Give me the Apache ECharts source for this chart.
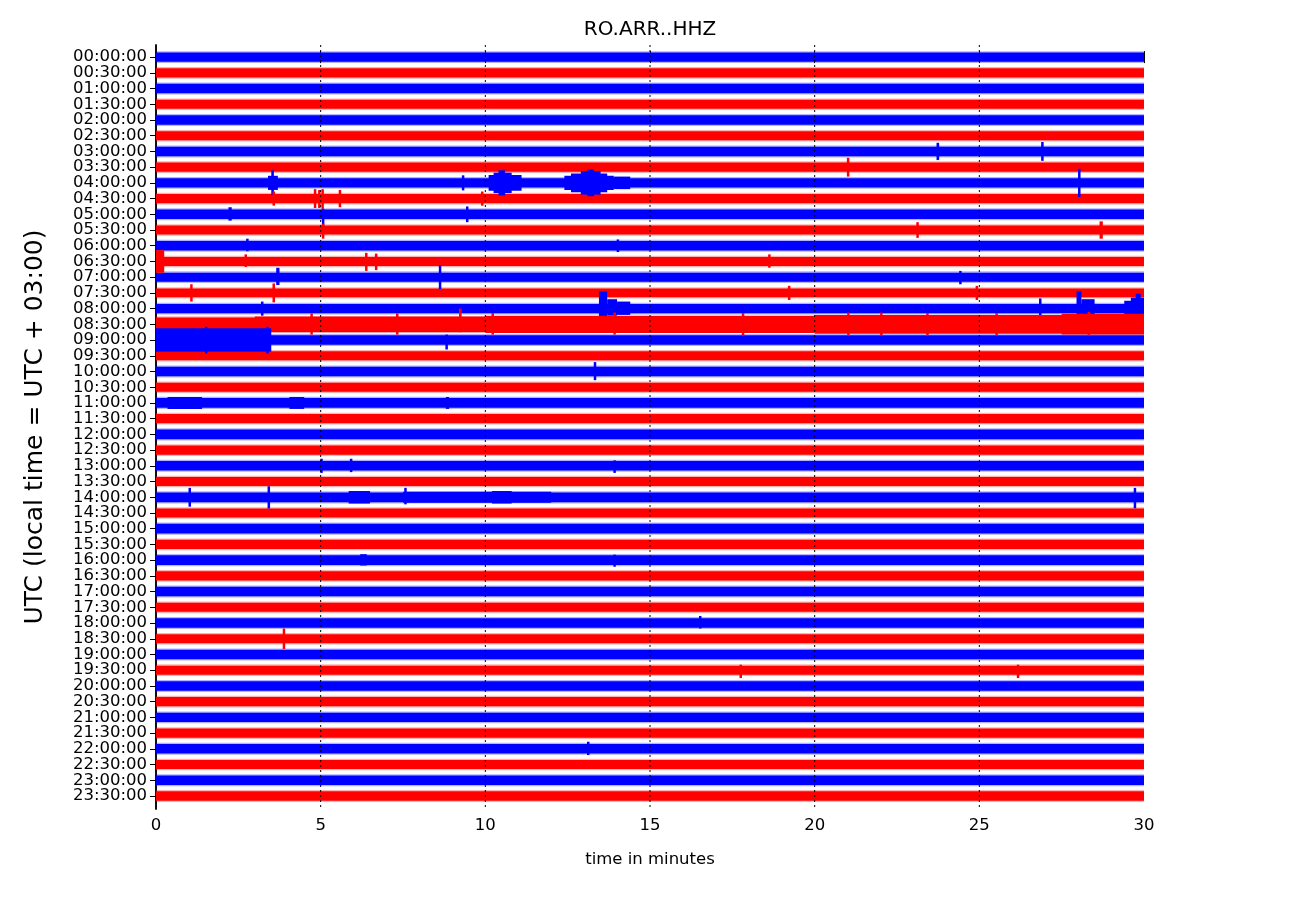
<!DOCTYPE html>
<html><head><meta charset="utf-8">
<script src="https://cdn.jsdelivr.net/npm/echarts@6/dist/echarts.min.js"></script>
<style>html,body{margin:0;padding:0;background:#fff}#c{width:1300px;height:900px}</style>
</head><body><div id="c"></div>
<script>
// ---- data ----
const chartTitle = 'RO.ARR..HHZ';
const xName = 'time in minutes';
const yName = 'UTC (local time = UTC + 03:00)';
const timeLabels = [
 '00:00:00','00:30:00','01:00:00','01:30:00','02:00:00','02:30:00','03:00:00','03:30:00',
 '04:00:00','04:30:00','05:00:00','05:30:00','06:00:00','06:30:00','07:00:00','07:30:00',
 '08:00:00','08:30:00','09:00:00','09:30:00','10:00:00','10:30:00','11:00:00','11:30:00',
 '12:00:00','12:30:00','13:00:00','13:30:00','14:00:00','14:30:00','15:00:00','15:30:00',
 '16:00:00','16:30:00','17:00:00','17:30:00','18:00:00','18:30:00','19:00:00','19:30:00',
 '20:00:00','20:30:00','21:00:00','21:30:00','22:00:00','22:30:00','23:00:00','23:30:00'
];
const traceColors = ['#0000ff', '#ff0000'];
// background noise half-amplitude of each 30-min line (in line spacings)
const baseAmp = [
 0.30,0.29,0.30,0.29,0.30,0.29,0.30,0.29,
 0.30,0.29,0.30,0.29,0.30,0.29,0.29,0.28,
 0.30,0.44,0.30,0.29,0.30,0.29,0.31,0.29,
 0.31,0.29,0.30,0.29,0.31,0.29,0.31,0.29,
 0.31,0.29,0.30,0.29,0.30,0.29,0.30,0.29,
 0.30,0.29,0.30,0.29,0.30,0.29,0.30,0.30
];
// events: [line, startMin, endMin, ampUp, ampDown]
const events = [
 [6,23.7,23.78,0.55,0.55],[6,26.88,26.95,0.6,0.6],
 [7,20.98,21.05,0.6,0.6],
 [8,3.4,3.7,0.45,0.45],[8,3.5,3.58,0.8,0.8],[8,9.3,9.35,0.48,0.48],
 [8,10.1,11.1,0.5,0.5],[8,10.25,10.8,0.65,0.65],[8,10.4,10.6,0.8,0.8],
 [8,12.4,13.9,0.45,0.45],[8,12.6,13.7,0.6,0.6],[8,12.9,13.5,0.75,0.75],[8,13.1,13.3,0.85,0.85],
 [8,13.9,14.4,0.4,0.4],[8,28.0,28.07,0.9,0.9],
 [9,3.55,3.6,0.45,0.45],[9,4.8,4.86,0.6,0.6],[9,4.93,4.99,0.55,0.6],[9,5.03,5.09,0.6,0.65],
 [9,5.55,5.62,0.55,0.55],[9,9.88,9.93,0.45,0.45],
 [10,2.2,2.3,0.45,0.4],[10,5.05,5.1,0.35,0.7],[10,9.42,9.48,0.5,0.5],
 [11,5.05,5.1,0.4,0.55],[11,23.1,23.15,0.5,0.5],[11,28.65,28.75,0.55,0.55],
 [12,2.75,2.8,0.45,0.35],[12,14.0,14.05,0.4,0.4],
 [13,0,0.25,0.72,0.72],[13,2.7,2.75,0.45,0.35],[13,6.35,6.42,0.55,0.6],[13,6.65,6.72,0.5,0.55],[13,18.6,18.65,0.45,0.4],
 [14,3.65,3.75,0.6,0.5],[14,8.6,8.65,0.75,0.75],[14,24.4,24.45,0.4,0.45],
 [15,1.05,1.1,0.55,0.55],[15,3.55,3.6,0.6,0.6],[15,19.2,19.25,0.45,0.45],[15,24.9,24.95,0.45,0.45],
 [16,3.2,3.25,0.45,0.45],[16,13.45,13.7,1.1,0.55],[16,13.7,14.0,0.6,0.45],[16,14.0,14.4,0.45,0.4],[16,26.82,26.88,0.65,0.45],
 [16,27.95,28.1,1.1,0.5],[16,28.1,28.5,0.6,0.4],[16,29.4,30,0.5,0.45],[16,29.6,30,0.7,0.5],[16,29.75,29.9,0.95,0.5],
 [17,3,10,0.5,0.5],[17,10,20,0.55,0.55],[17,20,30,0.6,0.6],[17,27.5,30,0.68,0.65],
 [17,9.2,9.28,1.0,0.5],[17,4.7,4.75,0.7,0.65],[17,7.3,7.35,0.7,0.65],[17,10.2,10.25,0.72,0.65],
 [17,13.9,13.95,0.75,0.65],[17,17.8,17.85,0.72,0.7],[17,21.0,21.05,0.75,0.7],[17,22.0,22.05,0.75,0.7],
 [17,23.4,23.45,0.72,0.7],[17,25.5,25.55,0.72,0.7],[17,28.3,28.35,0.8,0.72],
 [18,0,3.5,0.75,0.75],[18,1.5,1.55,0.85,0.85],[18,3.35,3.42,0.85,0.85],[18,8.8,8.85,0.35,0.6],
 [20,13.3,13.36,0.6,0.55],
 [22,0.35,1.4,0.38,0.38],[22,4.05,4.5,0.38,0.38],[22,8.8,8.9,0.38,0.38],
 [26,5.0,5.05,0.45,0.45],[26,5.9,5.95,0.45,0.4],[26,13.9,13.95,0.35,0.45],
 [28,1.0,1.05,0.6,0.6],[28,3.4,3.45,0.7,0.72],[28,5.85,6.5,0.4,0.4],[28,7.55,7.6,0.6,0.45],
 [28,7.5,12.0,0.35,0.35],[28,10.2,10.8,0.4,0.4],[28,29.7,29.75,0.6,0.7],
 [32,6.2,6.4,0.38,0.34],[32,13.9,13.95,0.35,0.42],
 [36,16.5,16.55,0.45,0.35],
 [37,3.85,3.92,0.65,0.65],
 [39,17.73,17.78,0.35,0.5],[39,26.15,26.2,0.35,0.5],
 [44,13.1,13.15,0.45,0.4]
];
const xMin = 0, xMax = 30, xStep = 5;

// ---- chart ----
const lineIdx = timeLabels.map((_, i) => i);
const yMin = -0.77, yMax = timeLabels.length - 1 + 0.83;
// padded label positions (empty guard labels at both ends)
const labelPos = [yMin + 0.05].concat(lineIdx, [yMax - 0.05]);
const gridLines = [];
for (let v = xMin + xStep; v < xMax; v += xStep) gridLines.push(v);
const font = 'DejaVu Sans, Bitstream Vera Sans, sans-serif';

const chart = echarts.init(document.getElementById('c'), null, {renderer: 'canvas'});

function bandRender(params, api) {
  const i = api.value(0), a = api.value(1);
  const col = traceColors[i % 2];
  const p0 = api.coord([xMin, i - a - 0.08]);
  const p1 = api.coord([xMax, i + a + 0.08]);
  const q0 = api.coord([xMin, i - a]);
  const q1 = api.coord([xMax, i + a]);
  return {type: 'group', children: [
    {type: 'rect', shape: {x: p0[0], y: Math.min(p0[1], p1[1]), width: p1[0] - p0[0], height: Math.abs(p1[1] - p0[1])},
     style: {fill: col, opacity: 0.3}},
    {type: 'rect', shape: {x: q0[0], y: Math.min(q0[1], q1[1]), width: q1[0] - q0[0], height: Math.abs(q1[1] - q0[1])},
     style: {fill: col}}
  ]};
}
function eventRender(params, api) {
  const i = api.value(0), t0 = api.value(1), t1 = api.value(2), up = api.value(3), dn = api.value(4);
  const col = traceColors[i % 2];
  const a = api.coord([t0, i - up]);
  const b = api.coord([t1, i + dn]);
  const w = Math.max(2.5, b[0] - a[0]);
  const x = b[0] - a[0] < 2.5 ? (a[0] + b[0]) / 2 - w / 2 : a[0];
  return {type: 'rect', shape: {x: x, y: a[1], width: w, height: b[1] - a[1]}, style: {fill: col}};
}
function gridRender(params, api) {
  const v = api.value(0);
  const a = api.coord([v, yMin]);
  const b = api.coord([v, yMax]);
  return {type: 'line', shape: {x1: a[0], y1: a[1], x2: b[0], y2: b[1]},
    style: {stroke: '#000', lineWidth: 1, lineDash: [2, 3]}};
}

const axisLineStyle = {lineStyle: {color: '#000', width: 1.5}};
const tickStyle = {color: '#000', width: 1};
chart.setOption({
  animation: false,
  backgroundColor: '#fff',
  title: {text: chartTitle, left: 'center', top: 15,
    textStyle: {fontFamily: font, fontSize: 20, fontWeight: 'normal', color: '#000'}},
  grid: {left: 156, right: 156, top: 45, bottom: 91},
  xAxis: [
    {type: 'value', min: xMin, max: xMax, interval: xStep, position: 'bottom',
     name: xName, nameLocation: 'middle', nameGap: 42,
     nameTextStyle: {fontFamily: font, fontSize: 16.5, color: '#000'},
     axisLine: axisLineStyle, axisTick: {inside: true, length: 6, lineStyle: tickStyle},
     axisLabel: {fontFamily: font, fontSize: 16.5, color: '#000', margin: 8},
     splitLine: {show: false}},
    {type: 'value', min: xMin, max: xMax, interval: xStep, position: 'top',
     axisLine: axisLineStyle, axisTick: {inside: true, length: 6, lineStyle: tickStyle},
     axisLabel: {show: false}, splitLine: {show: false}}
  ],
  yAxis: [
    {type: 'value', inverse: true, min: yMin, max: yMax, position: 'left',
     name: yName, nameLocation: 'middle', nameGap: 108, nameRotate: 90,
     nameTextStyle: {fontFamily: font, fontSize: 25, color: '#000'},
     axisLine: axisLineStyle,
     axisTick: {inside: true, length: 6, customValues: lineIdx, lineStyle: tickStyle},
     axisLabel: {customValues: labelPos,
       formatter: function (v) {
         const n = Number(v);
         return Number.isInteger(n) && timeLabels[n] ? timeLabels[n] : '';
       },
       hideOverlap: false, lineHeight: 12,
       fontFamily: font, fontSize: 16.5, color: '#000', margin: 9},
     splitLine: {show: false}},
    {type: 'value', inverse: true, min: yMin, max: yMax, position: 'right',
     axisLine: axisLineStyle,
     axisTick: {inside: true, length: 6, customValues: lineIdx, lineStyle: tickStyle},
     axisLabel: {show: false}, splitLine: {show: false}}
  ],
  series: [
    {type: 'custom', name: 'bands', xAxisIndex: 0, yAxisIndex: 0, renderItem: bandRender,
     data: baseAmp.map((a, i) => [i, a]), encode: {x: -1, y: 0}, silent: true, z: 2},
    {type: 'custom', name: 'events', xAxisIndex: 0, yAxisIndex: 0, renderItem: eventRender,
     data: events, encode: {x: 1, y: 0}, silent: true, z: 3},
    {type: 'custom', name: 'grid', xAxisIndex: 0, yAxisIndex: 0, renderItem: gridRender,
     data: gridLines.map(v => [v]), encode: {x: 0}, silent: true, z: 4}
  ]
});
</script>
</body></html>
